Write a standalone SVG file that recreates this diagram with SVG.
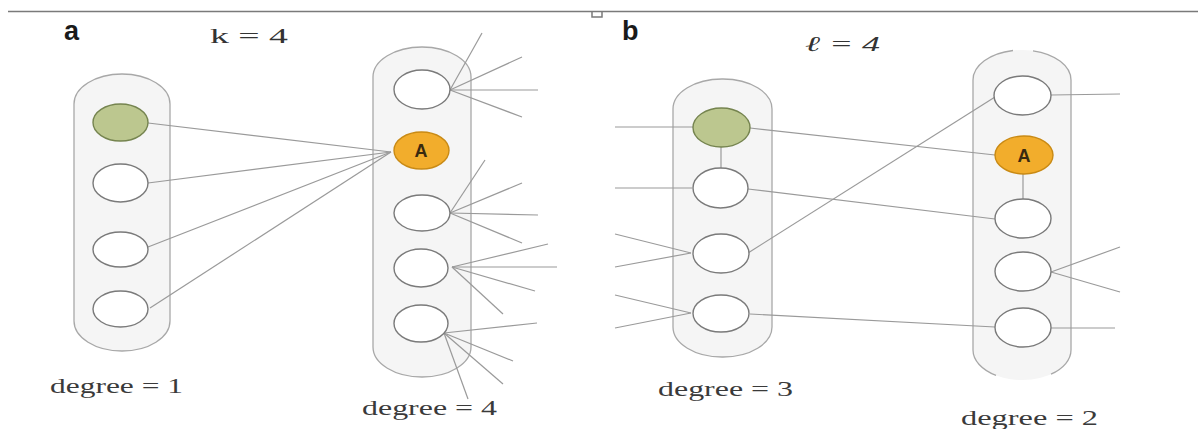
<svg xmlns="http://www.w3.org/2000/svg" width="1198" height="429" viewBox="0 0 1198 429">
  <style>
    .pill { fill: #f5f5f5; stroke: #a8a8a8; stroke-width: 1.3; }
    .pill-fill { fill: #f5f5f5; stroke: none; }
    .pill-edge { fill: none; stroke: #a8a8a8; stroke-width: 1.3; }
    .node { fill: #ffffff; stroke: #7a7a7a; stroke-width: 1.4; }
    .seed { fill: #bcc78f; stroke: #75844f; stroke-width: 1.4; }
    .hub { fill: #f2ad2c; stroke: #c98a14; stroke-width: 1.4; }
    .hub-label { font-family: "Liberation Sans", Arial, sans-serif; font-weight: bold; font-size: 18px; fill: #3a2a10; text-anchor: middle; }
    .edges line { stroke: #9a9a9a; stroke-width: 1.2; fill: none; }
    .panel { font-family: "Liberation Sans", Arial, sans-serif; font-weight: bold; font-size: 27px; fill: #1a1a1a; }
    .math { font-family: "Liberation Serif", "Times New Roman", serif; font-size: 21px; fill: #333333; }
    .deg { font-family: "Liberation Serif", "Times New Roman", serif; font-size: 21px; fill: #3a3a3a; }
  </style>

  <!-- header rule with small tab in the middle -->
  <g id="header" fill="none" stroke="#7a7a7a" stroke-width="1.5">
    <line x1="8" y1="11.5" x2="1198" y2="11.5"/>
    <path d="M592,11.5 V17 H602 V11.5"/>
  </g>

  <!-- labels -->
  <g id="labels">
    <text class="panel" x="64" y="40">a</text>
    <text class="math" x="210" y="43" textLength="78" lengthAdjust="spacingAndGlyphs">k = 4</text>
    <text class="panel" x="622" y="40">b</text>
    <text class="math" x="805" y="51" font-style="italic" font-size="23" textLength="75" lengthAdjust="spacingAndGlyphs">ℓ = 4</text>
    <text class="deg" x="50" y="393" textLength="133" lengthAdjust="spacingAndGlyphs">degree = 1</text>
    <text class="deg" x="362" y="415" textLength="135" lengthAdjust="spacingAndGlyphs">degree = 4</text>
    <text class="deg" x="658" y="396" textLength="135" lengthAdjust="spacingAndGlyphs">degree = 3</text>
    <text class="deg" x="961" y="425" textLength="137" lengthAdjust="spacingAndGlyphs">degree = 2</text>
  </g>

  <!-- containers -->
  <g id="group-a-left"><rect class="pill" x="74" y="74" width="96" height="277" rx="48" ry="30"/></g>
  <g id="group-a-right"><rect class="pill" x="373" y="47" width="98" height="330" rx="49" ry="30"/></g>
  <g id="group-b-left"><rect class="pill" x="673" y="79" width="99" height="278" rx="49" ry="30"/></g>
  <g id="group-b-right">
    <rect class="pill-fill" x="973" y="50" width="98" height="330" rx="49" ry="30"/>
    <path class="pill-edge" d="M1013,50.5 A49,30 0 0 0 973,80 V350 A49,30 0 0 0 996,375.4"/>
    <path class="pill-edge" d="M1033,50.8 A49,30 0 0 1 1071,80 V350 A49,30 0 0 1 1051,374.2"/>
  </g>

  <!-- connectors -->
  <g id="connectors" class="edges">
    <!-- panel a: left column to A -->
    <line x1="148" y1="123" x2="391" y2="152"/>
    <line x1="148" y1="183" x2="391" y2="152"/>
    <line x1="148" y1="247" x2="391" y2="152"/>
    <line x1="150" y1="308" x2="391" y2="152"/>
    <!-- panel a: outgoing fans -->
    <line x1="450" y1="90" x2="482" y2="33"/>
    <line x1="450" y1="90" x2="522" y2="57"/>
    <line x1="450" y1="90" x2="538" y2="90"/>
    <line x1="450" y1="90" x2="522" y2="117"/>
    <line x1="450" y1="213" x2="485" y2="160"/>
    <line x1="450" y1="213" x2="522" y2="183"/>
    <line x1="450" y1="213" x2="538" y2="215"/>
    <line x1="450" y1="213" x2="522" y2="243"/>
    <line x1="452" y1="267" x2="548" y2="244"/>
    <line x1="452" y1="267" x2="557" y2="267"/>
    <line x1="452" y1="267" x2="535" y2="291"/>
    <line x1="452" y1="267" x2="503" y2="314"/>
    <line x1="444" y1="333" x2="537" y2="323"/>
    <line x1="444" y1="333" x2="513" y2="361"/>
    <line x1="444" y1="333" x2="503" y2="384"/>
    <line x1="444" y1="333" x2="468" y2="399"/>
    <!-- panel b: incoming stubs -->
    <line x1="615" y1="127" x2="693" y2="127"/>
    <line x1="615" y1="188" x2="692" y2="188"/>
    <line x1="615" y1="234" x2="691" y2="253"/>
    <line x1="615" y1="267" x2="691" y2="253"/>
    <line x1="615" y1="295" x2="691" y2="313"/>
    <line x1="615" y1="328" x2="691" y2="313"/>
    <!-- panel b: chains inside columns -->
    <line x1="721" y1="147" x2="721" y2="168"/>
    <line x1="1023" y1="174" x2="1023" y2="200"/>
    <!-- panel b: cross links -->
    <line x1="750" y1="128" x2="995" y2="155"/>
    <line x1="748" y1="189" x2="995" y2="219"/>
    <line x1="748" y1="253" x2="995" y2="97"/>
    <line x1="750" y1="314" x2="995" y2="327"/>
    <!-- panel b: outgoing stubs -->
    <line x1="1051" y1="95" x2="1120" y2="94"/>
    <line x1="1051" y1="272" x2="1120" y2="247"/>
    <line x1="1051" y1="272" x2="1120" y2="292"/>
    <line x1="1051" y1="328" x2="1115" y2="328"/>
  </g>

  <!-- panel a nodes -->
  <g id="a-l1"><ellipse class="seed" cx="120.5" cy="122.5" rx="27.5" ry="18.5"/></g>
  <g id="a-l2"><ellipse class="node" cx="120.5" cy="183" rx="27.5" ry="19"/></g>
  <g id="a-l3"><ellipse class="node" cx="120.5" cy="249.5" rx="27.5" ry="17.5"/></g>
  <g id="a-l4"><ellipse class="node" cx="120.5" cy="309" rx="27.5" ry="18"/></g>
  <g id="a-r1"><ellipse class="node" cx="422" cy="89.5" rx="28" ry="19.5"/></g>
  <g id="a-A">
    <ellipse class="hub" cx="421.5" cy="150.5" rx="27.5" ry="18.5"/>
    <text class="hub-label" x="421" y="157">A</text>
  </g>
  <g id="a-r3"><ellipse class="node" cx="422" cy="213" rx="28" ry="18"/></g>
  <g id="a-r4"><ellipse class="node" cx="421" cy="268" rx="27" ry="19"/></g>
  <g id="a-r5"><ellipse class="node" cx="421" cy="323.5" rx="27" ry="18.5"/></g>

  <!-- panel b nodes -->
  <g id="b-l1"><ellipse class="seed" cx="721.5" cy="127.5" rx="28.5" ry="19.5"/></g>
  <g id="b-l2"><ellipse class="node" cx="720.5" cy="188" rx="27.5" ry="20"/></g>
  <g id="b-l3"><ellipse class="node" cx="721" cy="253.5" rx="28" ry="19.5"/></g>
  <g id="b-l4"><ellipse class="node" cx="721" cy="313.5" rx="28" ry="18.5"/></g>
  <g id="b-r1"><ellipse class="node" cx="1022.5" cy="95.5" rx="28.5" ry="19.5"/></g>
  <g id="b-A">
    <ellipse class="hub" cx="1024" cy="155" rx="29" ry="19"/>
    <text class="hub-label" x="1024" y="162">A</text>
  </g>
  <g id="b-r3"><ellipse class="node" cx="1023" cy="218.5" rx="28" ry="19.5"/></g>
  <g id="b-r4"><ellipse class="node" cx="1023" cy="271.5" rx="28" ry="19.5"/></g>
  <g id="b-r5"><ellipse class="node" cx="1023" cy="327.5" rx="28" ry="19.5"/></g>
</svg>
